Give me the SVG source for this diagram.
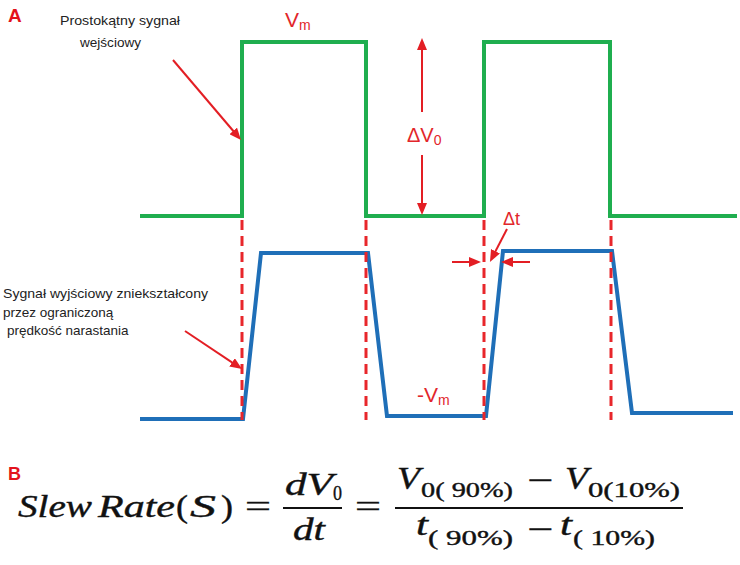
<svg xmlns="http://www.w3.org/2000/svg" width="740" height="565" viewBox="0 0 740 565">
<style>
.lbl{font-family:"Liberation Sans",Arial,sans-serif;font-weight:bold;fill:#e3121c}
.note{font-family:"Liberation Sans",Arial,sans-serif;font-size:13.5px;fill:#222}
.red{font-family:"Liberation Sans",Arial,sans-serif;fill:#e2262b}
.sig{fill:none;stroke-width:4;stroke-linejoin:miter}
.guide{stroke:#e8262b;stroke-width:3;stroke-dasharray:10 6;fill:none}
.arr{stroke:#e31e24;stroke-width:2;fill:none;marker-end:url(#ah)}
.math{font-family:"Liberation Serif","Times New Roman",serif;fill:#111;stroke:#111;stroke-width:0.4}
.mi{font-style:italic}
</style>
<defs>
<marker id="ah" viewBox="0 0 12 10" refX="8" refY="5" markerWidth="12" markerHeight="10" markerUnits="userSpaceOnUse" orient="auto">
<path d="M0,0 L12,5 L0,10 z" fill="#e31e24"/>
</marker>
</defs>
<rect width="740" height="565" fill="#fff"/>

<g id="label-A"><text class="lbl" x="8" y="22" font-size="19">A</text></g>
<g id="label-B"><text class="lbl" x="8" y="480" font-size="18">B</text></g>

<g id="input-signal">
<polyline class="sig" stroke="#1fae4f" points="140,216 242,216 242,42 366,42 366,216 484,216 484,42 610,42 610,216 737,216"/>
</g>
<g id="output-signal">
<polyline class="sig" stroke="#1f6fb8" points="140,419 243,419 261,253 368,253 387,416 486,416 503,251 612,251 632,413 733,413"/>
</g>
<g id="guides">
<line class="guide" x1="242" y1="220" x2="242" y2="420"/>
<line class="guide" x1="366" y1="220" x2="366" y2="420"/>
<line class="guide" x1="484" y1="220" x2="484" y2="420"/>
<line class="guide" x1="611" y1="220" x2="611" y2="420"/>
</g>

<g id="input-label">
<text class="note" x="60" y="25" textLength="120" lengthAdjust="spacingAndGlyphs">Prostokątny sygnał</text>
<text class="note" x="80" y="47" textLength="61" lengthAdjust="spacingAndGlyphs">wejściowy</text>
</g>
<g id="output-label">
<text class="note" x="3" y="298" textLength="205" lengthAdjust="spacingAndGlyphs">Sygnał wyjściowy zniekształcony</text>
<text class="note" x="3" y="317">przez ograniczoną</text>
<text class="note" x="7" y="335">prędkość narastania</text>
</g>
<g id="vm-label"><text class="red" x="285" y="27" font-size="21">V<tspan font-size="14" dy="3">m</tspan></text></g>
<g id="neg-vm-label"><text class="red" x="417" y="402" font-size="21">-V<tspan font-size="14" dy="3">m</tspan></text></g>
<g id="dv0-label"><text class="red" x="407" y="142" font-size="20">ΔV<tspan font-size="14" dy="3">0</tspan></text></g>
<g id="dt-label"><text class="red" x="503" y="225" font-size="18">Δt</text></g>

<g id="connectors">
<line class="arr" x1="173" y1="60" x2="238.4" y2="137"/>
<line class="arr" x1="185" y1="331" x2="238.7" y2="366.8"/>
<line class="arr" x1="422" y1="112" x2="422" y2="42"/>
<line class="arr" x1="422" y1="155" x2="422" y2="211"/>
<line class="arr" x1="452" y1="262" x2="477" y2="262"/>
<line class="arr" x1="530" y1="262" x2="505" y2="262"/>
<line class="arr" stroke-width="1.5" x1="507" y1="229" x2="491.8" y2="258.4"/>
</g>

<g id="formula" class="math">
<text class="mi" x="18" y="517" font-size="32" textLength="74" lengthAdjust="spacingAndGlyphs">Slew</text>
<text class="mi" x="98" y="517" font-size="32" textLength="77" lengthAdjust="spacingAndGlyphs">Rate</text>
<text x="176" y="517" font-size="32" textLength="12" lengthAdjust="spacingAndGlyphs">(</text>
<text class="mi" x="190" y="517" font-size="32" textLength="26" lengthAdjust="spacingAndGlyphs">S</text>
<text x="221" y="517" font-size="32" textLength="12" lengthAdjust="spacingAndGlyphs">)</text>
<text x="245" y="517" font-size="32" textLength="26" lengthAdjust="spacingAndGlyphs">=</text>
<text class="mi" x="285" y="495" font-size="32" textLength="48" lengthAdjust="spacingAndGlyphs">dV</text>
<text x="333" y="500" font-size="22" textLength="9" lengthAdjust="spacingAndGlyphs">0</text>
<line x1="283" y1="508" x2="342" y2="508" stroke="#111" stroke-width="2"/>
<text class="mi" x="293" y="540" font-size="32" textLength="32" lengthAdjust="spacingAndGlyphs">dt</text>
<text x="355" y="517" font-size="32" textLength="26" lengthAdjust="spacingAndGlyphs">=</text>
<text class="mi" x="397" y="489" font-size="32" textLength="23" lengthAdjust="spacingAndGlyphs">V</text>
<text x="421" y="497" font-size="22" textLength="92" lengthAdjust="spacingAndGlyphs">0( 90%)</text>
<text x="527" y="491" font-size="32" textLength="26" lengthAdjust="spacingAndGlyphs">−</text>
<text class="mi" x="565" y="489" font-size="32" textLength="23" lengthAdjust="spacingAndGlyphs">V</text>
<text x="588" y="497" font-size="22" textLength="92" lengthAdjust="spacingAndGlyphs">0(10%)</text>
<line x1="395" y1="508" x2="683" y2="508" stroke="#111" stroke-width="2"/>
<text class="mi" x="416" y="535" font-size="32" textLength="12" lengthAdjust="spacingAndGlyphs">t</text>
<text x="428" y="545" font-size="22" textLength="85" lengthAdjust="spacingAndGlyphs">( 90%)</text>
<text x="527" y="540" font-size="32" textLength="26" lengthAdjust="spacingAndGlyphs">−</text>
<text class="mi" x="560" y="535" font-size="32" textLength="12" lengthAdjust="spacingAndGlyphs">t</text>
<text x="573" y="545" font-size="22" textLength="82" lengthAdjust="spacingAndGlyphs">( 10%)</text>
</g>
</svg>
